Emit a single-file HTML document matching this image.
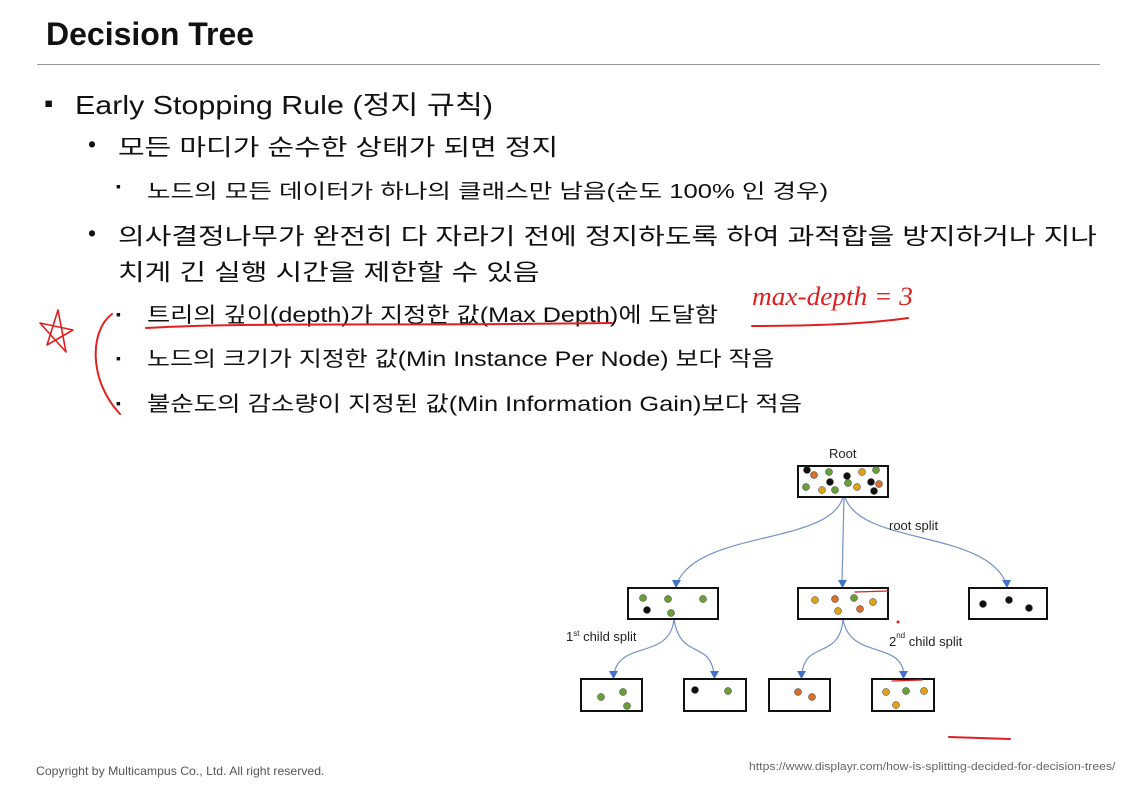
<!DOCTYPE html>
<html><head><meta charset="utf-8"><style>
body{margin:0;width:1141px;height:787px;background:#fff;position:relative;overflow:hidden;font-family:"Liberation Sans","Noto Sans CJK KR",sans-serif;color:#111}
.t{position:absolute;white-space:nowrap;transform-origin:0 50%}
</style></head><body>
<div class="t" style="left:46px;top:16px;font-size:32px;font-weight:bold">Decision Tree</div>
<div style="position:absolute;left:37px;top:64px;width:1063px;height:1px;background:#999"></div>
<div class="t" style="left:44px;top:88px;font-size:26px">▪</div>
<div class="t" style="left:75px;top:85px;font-size:26px;transform:scaleX(1.17)">Early Stopping Rule (정지 규칙)</div>
<div class="t" style="left:88px;top:131px;font-size:23px">•</div>
<div class="t" style="left:118px;top:128px;font-size:23px;transform:scaleX(1.26)">모든 마디가 순수한 상태가 되면 정지</div>
<div class="t" style="left:116px;top:178px;font-size:14px">▪</div>
<div class="t" style="left:147px;top:175px;font-size:20px;transform:scaleX(1.28)">노드의 모든 데이터가 하나의 클래스만 남음(순도 100% 인 경우)</div>
<div class="t" style="left:88px;top:220px;font-size:23px">•</div>
<div class="t" style="left:118px;top:217px;font-size:23px;transform:scaleX(1.26)">의사결정나무가 완전히 다 자라기 전에 정지하도록 하여 과적합을 방지하거나 지나</div>
<div class="t" style="left:118px;top:253px;font-size:23px;transform:scaleX(1.26)">치게 긴 실행 시간을 제한할 수 있음</div>
<div class="t" style="left:116px;top:306px;font-size:14px">▪</div>
<div class="t" style="left:147px;top:299px;font-size:21px;transform:scaleX(1.2)">트리의 깊이(depth)가 지정한 값(Max Depth)에 도달함</div>
<div class="t" style="left:116px;top:350px;font-size:14px">▪</div>
<div class="t" style="left:147px;top:343px;font-size:21px;transform:scaleX(1.19)">노드의 크기가 지정한 값(Min Instance Per Node) 보다 작음</div>
<div class="t" style="left:116px;top:395px;font-size:14px">▪</div>
<div class="t" style="left:147px;top:388px;font-size:21px;transform:scaleX(1.21)">불순도의 감소량이 지정된 값(Min Information Gain)보다 적음</div>
<div class="t" style="left:752px;top:282px;font-size:26px;font-style:italic;font-family:'Liberation Serif',serif;color:#e02020;transform:scaleX(1.05)">max-depth = 3</div>
<div class="t" style="left:36px;top:764px;font-size:12px;color:#555;transform:scaleX(1.02)">Copyright by Multicampus Co., Ltd. All right reserved.</div>
<div class="t" style="left:749px;top:761px;font-size:11px;color:#666;transform:scaleX(1.11)">https://www.displayr.com/how-is-splitting-decided-for-decision-trees/</div>
<svg width="1141" height="787" style="position:absolute;left:0;top:0">
<g fill="none" stroke="#7391c8" stroke-width="1.2">
<path d="M843,497 C830,545 700,530 677,583"/>
<line x1="844" y1="497" x2="842" y2="583"/>
<path d="M845,497 C860,545 985,530 1006,583"/>
<path d="M674,619 C670,660 620,640 614,674"/>
<path d="M674,619 C680,660 710,640 714,674"/>
<path d="M843,619 C840,660 805,640 802,674"/>
<path d="M843,619 C850,660 900,640 904,674"/>
</g>
<g fill="#4472c4">
<path d="M672,580 l9,0 l-5,8z"/><path d="M838,580 l9,0 l-4.5,8z"/><path d="M1002,580 l9,0 l-4,8z"/>
<path d="M609,671 l9,0 l-4.5,8z"/><path d="M710,671 l9,0 l-4.5,8z"/><path d="M797,671 l9,0 l-4.5,8z"/><path d="M899,671 l9,0 l-4.5,8z"/>
</g>
<g fill="#fff" stroke="#111" stroke-width="2">
<rect x="798" y="466" width="90" height="31"/>
<rect x="628" y="588" width="90" height="31"/><rect x="798" y="588" width="90" height="31"/><rect x="969" y="588" width="78" height="31"/>
<rect x="581" y="679" width="61" height="32"/><rect x="684" y="679" width="62" height="32"/><rect x="769" y="679" width="61" height="32"/><rect x="872" y="679" width="62" height="32"/>
</g>
<g stroke="#333" stroke-width=".5">
<g fill="#111"><circle cx="807" cy="470" r="3.5"/><circle cx="847" cy="476" r="3.5"/><circle cx="830" cy="482" r="3.5"/><circle cx="871" cy="482" r="3.5"/><circle cx="874" cy="491" r="3.5"/><circle cx="647" cy="610" r="3.5"/><circle cx="983" cy="604" r="3.5"/><circle cx="1009" cy="600" r="3.5"/><circle cx="1029" cy="608" r="3.5"/><circle cx="695" cy="690" r="3.5"/></g>
<g fill="#6a9e3a"><circle cx="829" cy="472" r="3.5"/><circle cx="876" cy="470" r="3.5"/><circle cx="806" cy="487" r="3.5"/><circle cx="848" cy="483" r="3.5"/><circle cx="835" cy="490" r="3.5"/><circle cx="643" cy="598" r="3.5"/><circle cx="668" cy="599" r="3.5"/><circle cx="703" cy="599" r="3.5"/><circle cx="671" cy="613" r="3.5"/><circle cx="854" cy="598" r="3.5"/><circle cx="601" cy="697" r="3.5"/><circle cx="623" cy="692" r="3.5"/><circle cx="627" cy="706" r="3.5"/><circle cx="728" cy="691" r="3.5"/><circle cx="906" cy="691" r="3.5"/></g>
<g fill="#e0a317"><circle cx="862" cy="472" r="3.5"/><circle cx="822" cy="490" r="3.5"/><circle cx="857" cy="487" r="3.5"/><circle cx="815" cy="600" r="3.5"/><circle cx="873" cy="602" r="3.5"/><circle cx="838" cy="611" r="3.5"/><circle cx="886" cy="692" r="3.5"/><circle cx="924" cy="691" r="3.5"/><circle cx="896" cy="705" r="3.5"/></g>
<g fill="#d5702e"><circle cx="814" cy="475" r="3.5"/><circle cx="879" cy="484" r="3.5"/><circle cx="835" cy="599" r="3.5"/><circle cx="860" cy="609" r="3.5"/><circle cx="798" cy="692" r="3.5"/><circle cx="812" cy="697" r="3.5"/></g>
</g>
<g font-family="Liberation Sans, sans-serif" font-size="13" fill="#222">
<text x="829" y="458">Root</text>
<text x="889" y="530">root split</text>
<text x="566" y="641">1<tspan font-size="8" dy="-5">st</tspan><tspan dy="5"> child split</tspan></text>
<text x="889" y="646">2<tspan font-size="8" dy="-8">nd</tspan><tspan dy="8"> child split</tspan></text>
</g>
<g fill="none" stroke="#e02020" stroke-width="2" stroke-linecap="round">
<path d="M146,328 C250,322 400,326 612,323"/>
<path d="M112,314 C90,330 88,380 120,414"/>
<path d="M47,345 L58,310 L66,352 L40,323 L73,330 Z" stroke-width="1.6" stroke-linejoin="round"/>
<path d="M752,326 C800,326 860,325 908,318"/>
<path d="M855,592 L888,591" stroke-width="1.2"/>
<path d="M892,681 L922,680" stroke-width="1.2"/>
<path d="M949,737 L1010,739"/>
</g>
<circle cx="898" cy="622" r="1.5" fill="#e02020"/>
</svg>
</body></html>
